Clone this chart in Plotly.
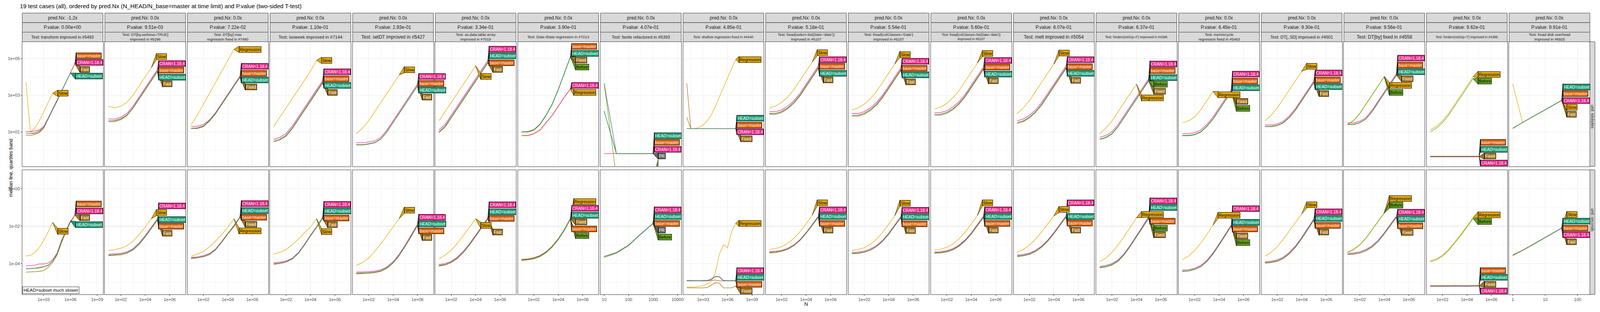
import plotly.graph_objects as go
from plotly.subplots import make_subplots

# ---- facet strips ----
tests = [
    "transform improved in #5493",
    "DT[by,verbose=TRUE] improved in #6296",
    "DT[by] max regression fixed in #7480",
    "isoweek improved in #7144",
    "setDT improved in #5427",
    "as.data.table.array improved in #7019",
    "Date-IDate regression in #7213",
    "fwrite refactored in #6393",
    "shallow regression fixed in #4440",
    "fread(select=list(Date='date')) improved in #6107",
    "fread(colClasses='Date') improved in #6107",
    "fread(colClasses=list(Date='date')) improved in #6107",
    "melt improved in #5054",
    "forderv(retGrp=F) improved in #4386",
    "memrecycle regression fixed in #5463",
    "DT[,.SD] improved in #4501",
    "DT[by] fixed in #4558",
    "forderv(retGrp=T) improved in #4386",
    "fread disk overhead improved in #6925",
]
pred_nx = ["-1.2x", "0.0x", "0.0x", "0.0x", "0.0x", "0.0x", "0.0x", "0.0x", "0.0x", "0.0x",
           "0.0x", "0.0x", "0.0x", "0.0x", "0.0x", "0.0x", "0.0x", "0.0x", "0.0x"]
p_values = ["0.00e+00", "9.51e-03", "7.22e-02", "1.10e-01", "2.93e-01", "3.34e-01", "3.90e-01",
            "4.07e-01", "4.85e-01", "5.18e-01", "5.54e-01", "5.60e-01", "6.07e-01", "6.37e-01",
            "6.45e-01", "9.30e-01", "9.56e-01", "9.62e-01", "9.91e-01"]
units = ["kilobytes", "seconds"]

# versions compared in every panel, then the extra ones per test
versions = ["HEAD=subset", "base=master", "CRAN=1.18.4"]
extras = [
    ["Fast", "Slow"], ["Slow", "Fast"], ["Regression", "Fixed"], ["Slow", "Fast"],
    ["Slow", "Fast"], ["Slow", "Fast"], ["Before", "Regression", "Fixed"], ["PR", "Before"],
    ["Regression", "Fixed"], ["Slow", "Fast"], ["Slow", "Fast"], ["Slow", "Fast"],
    ["Slow", "Fast"], ["Before", "Regression", "Fixed"], ["Before", "Regression", "Fixed"],
    ["Slow", "Fast"], ["Before", "Regression", "Fixed"], ["Before", "Regression", "Fixed"],
    ["Slow", "Fast"],
]

# ---- x: log10(N) measured in each panel ----
G5 = [1, 1.5, 2, 2.5, 3, 3.5, 4, 4.5, 5]
log10_N = [
    [1, 1.5, 2, 2.5, 3, 3.5, 4, 4.5, 5, 5.5, 6, 6.5],
    G5, G5, G5,
    [1, 1.5, 2, 2.5, 3, 3.5, 4, 4.5, 5, 5.5, 6],
    G5, G5,
    [1, 1.5, 2, 2.5, 3],
    [1, 1.5, 2, 2.5, 3, 3.5, 4, 4.5, 5, 5.5, 6, 6.5, 7],
    G5, G5, G5, G5, G5, G5, G5, G5, G5,
    [0, 0.301, 0.602, 0.903, 1.204, 1.505],
]
x_limits = [[1, 9.25], [1, 7], [1, 7], [1, 7], [1, 7], [1, 7], [1, 7], [1, 4], [1, 10],
            [1, 7], [1, 7], [1, 7], [1, 7], [1, 7], [1, 7], [1, 7], [1, 7], [1, 7], [0, 2.26]]
TK3 = [1e3, 1e6, 1e9]
TK2 = [1e2, 1e4, 1e6]
TX3 = ["1e+03", "1e+06", "1e+09"]
TX2 = ["1e+02", "1e+04", "1e+06"]
x_tick_vals = [TK3, TK2, TK2, TK2, TK2, TK2, TK2, [10, 100, 1000, 10000], TK3,
               TK2, TK2, TK2, TK2, TK2, TK2, TK2, TK2, TK2, [1, 10, 100]]
x_tick_text = [TX3, TX2, TX2, TX2, TX2, TX2, TX2, ["10", "100", "1000", "10000"], TX3,
               TX2, TX2, TX2, TX2, TX2, TX2, TX2, TX2, TX2, ["1", "10", "100"]]

# ---- y axes (shared per row), log10 ranges ----
y_ranges = [[-0.883, 5.915], [-5.65, 1.01]]
y_tick_vals = [[10, 1e3, 1e5], [1e-4, 1e-2, 1]]
y_tick_text = [["1e+01", "1e+03", "1e+05"], ["1e-04", "1e-02", "1e+00"]]
y_minor = [[1, 1e2, 1e4], [1e-5, 1e-3, 1e-1]]
seconds_limit = 0.01

# ---- medians, log10(kilobytes) ----
kb_HEAD = [
    [0.9, 0.9, 0.9, 1.0, 1.2, 1.7, 2.2, 2.66, 3.2, 3.7, 4.21],
    [1.6, 1.6, 1.7, 1.9, 2.3, 2.8, 3.3, 3.8, 4.3],
    [1.2, 1.2, 1.3, 1.6, 2.0, 2.5, 3.0, 3.5, 4.0],
    [0.5, 0.6, 0.8, 1.2, 1.7, 2.2, 2.7, 3.2, 3.7],
    [0.3, 0.3, 0.35, 0.4, 0.6, 1.0, 1.5, 2.0, 2.5, 3.0, 3.5],
    [1.0, 1.3, 1.8, 2.3, 2.8, 3.3, 3.8, 4.3, 4.8],
    [1.0, 1.0, 1.1, 1.4, 1.9, 2.5, 3.3, 4.2, 5.1],
    [2.13, -0.19, -0.19, -0.19, -0.19],
    [1.18, 1.18, 1.18, 1.18, 1.18, 1.18, 1.18, 1.18, 1.18, 1.18, 1.18, 1.18, 1.18],
    [2.0, 2.0, 2.1, 2.3, 2.6, 3.0, 3.5, 4.0, 4.5],
    [1.9, 1.9, 2.0, 2.2, 2.5, 2.9, 3.4, 3.9, 4.4],
    [1.95, 1.95, 2.05, 2.25, 2.55, 2.95, 3.45, 3.95, 4.45],
    [1.5, 1.6, 1.8, 2.1, 2.5, 3.0, 3.5, 4.0, 4.5],
    [0.6, 0.7, 0.9, 1.3, 1.8, 2.3, 2.8, 3.3, 3.8],
    [0.8, 0.8, 0.85, 1.0, 1.3, 1.7, 2.2, 2.7, 3.2],
    [1.3, 1.3, 1.35, 1.5, 1.8, 2.2, 2.7, 3.2, 3.7],
    [1.4, 1.4, 1.5, 1.7, 2.1, 2.6, 3.1, 3.6, 4.1],
    [-0.35, -0.35, -0.35, -0.35, -0.35, -0.35, -0.35, -0.35, -0.35],
    [1.19, 1.51, 1.81, 2.11, 2.41, 2.71],
]
kb_base = [
    [0.9, 0.9, 0.95, 1.05, 1.25, 1.7, 2.2, 2.7, 3.2, 3.72, 4.22, 4.72],
    [1.6, 1.62, 1.72, 1.92, 2.32, 2.82, 3.32, 3.82, 4.32],
    [1.2, 1.22, 1.32, 1.62, 2.02, 2.52, 3.02, 3.52, 4.02],
    [0.5, 0.6, 0.8, 1.2, 1.7, 2.2, 2.7, 3.2, 3.72],
    [0.3, 0.3, 0.35, 0.42, 0.62, 1.02, 1.52, 2.02, 2.52, 3.02, 3.52],
    [1.0, 1.3, 1.8, 2.3, 2.8, 3.3, 3.8, 4.3, 4.8],
    [1.0, 1.02, 1.12, 1.42, 1.92, 2.52, 3.32, 4.22, 5.12],
    [2.13, -0.19, -0.19, -0.19, -0.19],
    [1.79, 1.18, 1.18, 1.18, 1.18, 1.18, 1.18, 1.18, 1.18, 1.18, 1.18, 1.18, 1.18],
    [2.0, 2.01, 2.11, 2.31, 2.61, 3.01, 3.51, 4.01, 4.51],
    [1.9, 1.91, 2.01, 2.21, 2.51, 2.91, 3.41, 3.91, 4.41],
    [1.95, 1.96, 2.06, 2.26, 2.56, 2.96, 3.46, 3.96, 4.46],
    [1.5, 1.6, 1.8, 2.1, 2.5, 3.0, 3.5, 4.0, 4.52],
    [0.6, 0.7, 0.9, 1.3, 1.8, 2.3, 2.8, 3.3, 3.82],
    [0.8, 0.81, 0.86, 1.01, 1.31, 1.71, 2.21, 2.71, 3.21],
    [1.3, 1.31, 1.36, 1.51, 1.81, 2.21, 2.71, 3.21, 3.71],
    [1.4, 1.41, 1.51, 1.71, 2.11, 2.61, 3.11, 3.61, 4.11],
    [-0.33, -0.33, -0.33, -0.33, -0.33, -0.33, -0.33, -0.33, -0.33],
    [1.2, 1.51, 1.81, 2.11, 2.41, 2.71],
]
kb_CRAN = [
    [1.0, 1.0, 1.05, 1.1, 1.3, 1.75, 2.25, 2.72, 3.22, 3.72, 4.22, 4.72],
    [1.7, 1.7, 1.8, 2.0, 2.4, 2.9, 3.4, 3.9, 4.4],
    [1.3, 1.3, 1.4, 1.65, 2.05, 2.55, 3.05, 3.55, 4.05],
    [0.6, 0.7, 0.9, 1.3, 1.8, 2.3, 2.8, 3.3, 3.8],
    [0.4, 0.4, 0.45, 0.5, 0.7, 1.1, 1.6, 2.1, 2.6, 3.1, 3.6],
    [1.1, 1.4, 1.9, 2.4, 2.9, 3.4, 3.9, 4.4, 4.9],
    [0.8, 0.8, 0.9, 1.1, 1.5, 1.9, 2.4, 2.9, 3.35],
    [-0.19, -0.19, -0.19, -0.19, -0.19],
    [1.18, 1.18, 1.18, 1.18, 1.18, 1.18, 1.18, 1.18, 1.18, 1.18, 1.18, 1.18, 1.18],
    [2.1, 2.1, 2.2, 2.4, 2.7, 3.1, 3.6, 4.1, 4.6],
    [2.0, 2.0, 2.1, 2.3, 2.6, 3.0, 3.5, 4.0, 4.5],
    [2.05, 2.05, 2.15, 2.35, 2.65, 3.05, 3.55, 4.05, 4.55],
    [1.6, 1.7, 1.9, 2.2, 2.6, 3.1, 3.6, 4.1, 4.6],
    [0.7, 0.8, 1.0, 1.4, 1.9, 2.4, 2.9, 3.4, 3.9],
    [0.9, 0.9, 0.95, 1.1, 1.4, 1.8, 2.3, 2.8, 3.3],
    [1.38, 1.38, 1.43, 1.58, 1.88, 2.28, 2.78, 3.28, 3.78],
    [1.48, 1.48, 1.58, 1.78, 2.18, 2.68, 3.18, 3.68, 4.18],
    [-0.37, -0.37, -0.37, -0.37, -0.37, -0.37, -0.37, -0.37, -0.37],
    [1.19, 1.51, 1.81, 2.11, 2.41, 2.71],
]
kb_extra = [
    [[0.8, 0.8, 0.85, 0.95, 1.2, 1.7, 2.2, 2.7, 3.2, 3.7, 4.2, 4.72],
     [3.68, 1.0, 1.2, 1.6, 2.1, 2.6, 3.1]],
    [[2.4, 2.3, 2.4, 2.6, 3.0, 3.5, 4.0, 4.5],
     [1.55, 1.55, 1.65, 1.88, 2.28, 2.78, 3.28, 3.78, 4.28]],
    [[1.4, 1.9, 2.5, 3.1, 3.7, 4.3, 4.9, 5.5],
     [1.18, 1.18, 1.28, 1.58, 1.98, 2.48, 2.98, 3.48, 3.98]],
    [[1.3, 1.8, 2.3, 2.8, 3.3, 3.8, 4.3, 4.9],
     [0.45, 0.55, 0.75, 1.15, 1.65, 2.15, 2.65, 3.15, 3.65]],
    [[0.9, 1.2, 1.6, 2.1, 2.6, 3.1, 3.6, 4.1],
     [0.28, 0.28, 0.33, 0.4, 0.6, 1.0, 1.5, 2.0, 2.5, 3.0, 3.5]],
    [[1.6, 2.1, 2.6, 3.1, 3.6, 4.1, 4.6],
     [0.95, 1.25, 1.75, 2.25, 2.75, 3.25, 3.75, 4.25, 4.75]],
    [[0.98, 0.98, 1.08, 1.38, 1.88, 2.48, 3.28, 4.18, 5.08],
     [0.78, 0.78, 0.88, 1.08, 1.48, 1.88, 2.38, 2.88, 3.33],
     [1.0, 1.0, 1.1, 1.4, 1.9, 2.5, 3.3, 4.2, 5.1]],
    [[3.64, -0.19, -0.19, -0.19, -0.19],
     [3.64, -1.5, -1.5, -1.5, -1.5]],
    [[1.18, 1.18, 1.18, 1.25, 1.37, 1.6, 1.92, 2.38, 2.9, 3.42, 3.95, 4.45, 4.94],
     [3.64, 1.18, 1.18, 1.18, 1.18, 1.18, 1.18, 1.18, 1.18, 1.18, 1.18, 1.18, 1.18]],
    [[2.3, 2.4, 2.6, 2.9, 3.3, 3.8, 4.3, 4.8],
     [1.95, 1.95, 2.05, 2.25, 2.55, 2.95, 3.45, 3.95, 4.45]],
    [[2.2, 2.3, 2.5, 2.8, 3.2, 3.7, 4.2, 4.7],
     [1.85, 1.85, 1.95, 2.15, 2.45, 2.85, 3.35, 3.85, 4.35]],
    [[2.25, 2.35, 2.55, 2.85, 3.25, 3.75, 4.25, 4.75],
     [1.9, 1.9, 2.0, 2.2, 2.5, 2.9, 3.4, 3.9, 4.4]],
    [[2.0, 2.3, 2.7, 3.2, 3.7, 4.2, 4.7],
     [1.45, 1.55, 1.75, 2.05, 2.45, 2.95, 3.45, 3.95, 4.45]],
    [[0.6, 0.7, 0.9, 1.3, 1.8, 2.3, 2.8, 3.3, 3.78],
     [0.9, 1.2, 1.6, 2.1, 2.6, 3.1, 3.6],
     [0.58, 0.68, 0.88, 1.28, 1.78, 2.28, 2.78, 3.28, 3.78]],
    [[0.78, 0.78, 0.83, 0.98, 1.28, 1.68, 2.18, 2.68, 3.18],
     [1.5, 1.6, 1.8, 2.2, 2.7, 3.2],
     [0.8, 0.8, 0.85, 1.0, 1.3, 1.7, 2.2, 2.7, 3.2]],
    [[1.6, 1.9, 2.3, 2.8, 3.3, 3.8, 4.3],
     [1.28, 1.28, 1.33, 1.48, 1.78, 2.18, 2.68, 3.18, 3.68]],
    [[1.4, 1.6, 2.0, 2.5, 3.0, 3.5, 4.0],
     [1.42, 1.62, 2.02, 2.52, 3.02, 3.52, 4.02],
     [1.39, 1.39, 1.49, 1.69, 2.09, 2.59, 3.09, 3.59, 4.09]],
    [[1.0, 1.2, 1.5, 1.9, 2.4, 2.9, 3.4, 3.9],
     [1.1, 1.3, 1.6, 2.0, 2.5, 3.0, 3.5, 4.0],
     [-0.36, -0.36, -0.36, -0.36, -0.36, -0.36, -0.36, -0.36, -0.36]],
    [[3.61, 1.51, 1.81, 2.11, 2.41, 2.71],
     [1.18, 1.51, 1.81, 2.11, 2.41, 2.71]],
]

# ---- medians, log10(seconds) ----
sec_HEAD = [
    [-4.28, -4.27, -4.26, -4.24, -4.18, -4.1, -3.87, -3.49, -2.8, -2.21, -1.72],
    [-3.55, -3.53, -3.5, -3.42, -3.25, -2.95, -2.55, -2.1, -1.65],
    [-3.7, -3.68, -3.62, -3.5, -3.25, -2.85, -2.4, -1.95, -1.5],
    [-4.0, -3.98, -3.9, -3.75, -3.45, -3.0, -2.5, -2.05, -1.55],
    [-4.5, -4.5, -4.48, -4.45, -4.38, -4.22, -3.95, -3.55, -3.05, -2.5, -1.95],
    [-4.1, -4.05, -3.92, -3.7, -3.38, -2.98, -2.52, -2.05, -1.58],
    [-3.8, -3.78, -3.72, -3.6, -3.4, -3.1, -2.7, -2.2, -1.6],
    [-3.63, -3.42, -3.02, -2.42, -1.85],
    [-4.92, -4.92, -4.92, -4.92, -4.92, -4.92, -4.85, -4.7, -4.72, -4.92, -4.92, -4.92, -4.92],
    [-3.4, -3.38, -3.33, -3.22, -3.03, -2.75, -2.38, -1.95, -1.5],
    [-3.45, -3.43, -3.38, -3.27, -3.08, -2.8, -2.42, -1.98, -1.52],
    [-3.42, -3.4, -3.35, -3.24, -3.05, -2.77, -2.4, -1.96, -1.5],
    [-3.6, -3.56, -3.48, -3.33, -3.1, -2.78, -2.38, -1.94, -1.48],
    [-4.2, -4.15, -4.05, -3.85, -3.5, -3.05, -2.55, -2.05, -1.55],
    [-4.4, -4.38, -4.3, -4.15, -3.88, -3.48, -3.0, -2.5, -1.98],
    [-3.95, -3.92, -3.85, -3.7, -3.45, -3.1, -2.65, -2.15, -1.65],
    [-3.5, -3.48, -3.42, -3.3, -3.1, -2.8, -2.4, -1.95, -1.5],
    [-5.2, -5.2, -5.21, -5.2, -5.19, -5.2, -5.2, -5.19, -5.19],
    [-3.55, -3.29, -3.0, -2.7, -2.4, -2.1],
]
sec_base = [
    [-4.27, -4.26, -4.24, -4.2, -4.17, -4.08, -3.86, -3.5, -2.85, -2.25, -1.78, -1.41],
    [-3.56, -3.54, -3.51, -3.43, -3.26, -2.96, -2.56, -2.12, -1.66],
    [-3.72, -3.69, -3.63, -3.51, -3.26, -2.86, -2.41, -1.99, -1.52],
    [-4.02, -3.99, -3.91, -3.76, -3.46, -3.02, -2.52, -2.06, -1.57],
    [-4.52, -4.51, -4.49, -4.46, -4.39, -4.23, -3.96, -3.56, -3.06, -2.52, -1.97],
    [-4.12, -4.06, -3.93, -3.71, -3.39, -2.99, -2.53, -2.06, -1.6],
    [-3.82, -3.79, -3.73, -3.61, -3.41, -3.11, -2.71, -2.21, -1.62],
    [-3.63, -3.42, -3.02, -2.42, -1.85],
    [-4.93, -4.93, -4.93, -4.93, -4.93, -4.93, -4.9, -4.88, -4.92, -4.93, -4.93, -4.93, -4.93],
    [-3.42, -3.4, -3.34, -3.23, -3.04, -2.76, -2.39, -1.96, -1.52],
    [-3.46, -3.44, -3.39, -3.28, -3.09, -2.81, -2.43, -1.99, -1.54],
    [-3.43, -3.41, -3.36, -3.25, -3.06, -2.78, -2.41, -1.97, -1.52],
    [-3.61, -3.57, -3.49, -3.34, -3.11, -2.79, -2.39, -1.95, -1.5],
    [-4.21, -4.16, -4.06, -3.86, -3.51, -3.06, -2.56, -2.06, -1.57],
    [-4.41, -4.39, -4.31, -4.16, -3.89, -3.49, -3.01, -2.51, -1.99],
    [-3.96, -3.93, -3.86, -3.71, -3.46, -3.11, -2.66, -2.16, -1.67],
    [-3.51, -3.49, -3.43, -3.31, -3.11, -2.81, -2.41, -1.97, -1.52],
    [-5.18, -5.18, -5.19, -5.18, -5.17, -5.18, -5.18, -5.17, -5.17],
    [-3.54, -3.29, -3.0, -2.7, -2.4, -2.1],
]
sec_CRAN = [
    [-4.12, -4.11, -4.08, -4.02, -4.02, -3.97, -3.8, -3.44, -2.75, -2.24, -1.75, -1.41],
    [-3.5, -3.48, -3.45, -3.37, -3.2, -2.9, -2.5, -2.05, -1.6],
    [-3.66, -3.64, -3.58, -3.46, -3.22, -2.82, -2.38, -2.02, -1.48],
    [-3.95, -3.93, -3.86, -3.72, -3.42, -2.98, -2.48, -2.03, -1.52],
    [-4.45, -4.45, -4.43, -4.4, -4.33, -4.18, -3.9, -3.5, -3.0, -2.46, -1.9],
    [-4.05, -4.0, -3.88, -3.66, -3.34, -2.94, -2.48, -2.02, -1.55],
    [-3.78, -3.76, -3.7, -3.58, -3.38, -3.08, -2.68, -2.18, -1.58],
    [-3.62, -3.41, -3.01, -2.41, -1.84],
    [-4.9, -4.91, -4.91, -4.91, -4.91, -4.9, -4.83, -4.68, -4.7, -4.9, -4.91, -4.91, -4.91],
    [-3.36, -3.34, -3.29, -3.18, -3.0, -2.72, -2.35, -1.92, -1.47],
    [-3.4, -3.38, -3.33, -3.22, -3.04, -2.76, -2.38, -1.94, -1.48],
    [-3.38, -3.36, -3.31, -3.2, -3.01, -2.73, -2.36, -1.92, -1.46],
    [-3.55, -3.51, -3.44, -3.29, -3.06, -2.74, -2.34, -1.9, -1.45],
    [-4.15, -4.1, -4.0, -3.8, -3.46, -3.01, -2.51, -2.01, -1.5],
    [-4.35, -4.33, -4.25, -4.1, -3.83, -3.43, -2.95, -2.45, -1.93],
    [-3.9, -3.87, -3.8, -3.65, -3.4, -3.05, -2.6, -2.1, -1.6],
    [-3.45, -3.43, -3.37, -3.25, -3.05, -2.75, -2.35, -1.9, -1.45],
    [-5.22, -5.22, -5.23, -5.22, -5.21, -5.22, -5.22, -5.21, -5.21],
    [-3.56, -3.3, -3.0, -2.7, -2.4, -2.1],
]
sec_extra = [
    [[-4.46, -4.45, -4.44, -4.42, -4.37, -4.2, -3.95, -3.55, -2.9, -2.3, -1.8, -1.41],
     [-3.6, -3.56, -3.41, -3.15, -2.76, -2.31, -1.8]],
    [[-3.3, -3.25, -3.18, -3.05, -2.8, -2.45, -2.05, -1.6],
     [-3.58, -3.56, -3.53, -3.45, -3.28, -2.98, -2.58, -2.13, -1.68]],
    [[-3.6, -3.5, -3.35, -3.1, -2.8, -2.45, -2.05, -1.6],
     [-3.74, -3.7, -3.64, -3.52, -3.27, -2.87, -2.42, -2.03, -1.53]],
    [[-3.5, -3.4, -3.25, -3.0, -2.7, -2.35, -2.05, -1.6],
     [-4.04, -4.0, -3.92, -3.77, -3.47, -3.03, -2.53, -2.08, -1.58]],
    [[-4.1, -3.95, -3.7, -3.35, -2.95, -2.5, -2.05, -1.6],
     [-4.55, -4.54, -4.52, -4.49, -4.42, -4.26, -3.98, -3.58, -3.08, -2.54, -1.98]],
    [[-3.75, -3.55, -3.28, -2.92, -2.5, -2.05, -1.6],
     [-4.14, -4.08, -3.95, -3.73, -3.41, -3.01, -2.55, -2.08, -1.62]],
    [[-3.84, -3.81, -3.75, -3.63, -3.43, -3.13, -2.73, -2.23, -1.63],
     [-3.76, -3.74, -3.68, -3.56, -3.36, -3.06, -2.66, -2.16, -1.56],
     [-3.81, -3.79, -3.73, -3.61, -3.41, -3.11, -2.71, -2.21, -1.61]],
    [[-3.62, -3.41, -3.02, -2.42, -1.85],
     [-3.68, -3.45, -3.04, -2.43, -1.86]],
    [[-5.27, -5.26, -5.25, -5.22, -5.18, -5.1, -4.95, -4.5, -3.5, -3.0, -3.15, -2.3, -1.85],
     [-5.3, -5.3, -5.3, -5.3, -5.3, -5.28, -5.15, -5.02, -5.05, -5.3, -5.3, -5.3, -5.2]],
    [[-3.25, -3.2, -3.1, -2.92, -2.65, -2.3, -1.88, -1.42],
     [-3.43, -3.41, -3.35, -3.24, -3.05, -2.77, -2.4, -1.97, -1.53]],
    [[-3.3, -3.25, -3.15, -2.97, -2.7, -2.34, -1.9, -1.44],
     [-3.48, -3.46, -3.4, -3.29, -3.1, -2.82, -2.44, -2.0, -1.55]],
    [[-3.28, -3.23, -3.13, -2.95, -2.68, -2.32, -1.89, -1.43],
     [-3.45, -3.43, -3.38, -3.27, -3.08, -2.8, -2.43, -1.99, -1.54]],
    [[-3.4, -3.25, -3.02, -2.7, -2.3, -1.88, -1.45],
     [-3.63, -3.59, -3.51, -3.36, -3.13, -2.81, -2.41, -1.97, -1.52]],
    [[-4.22, -4.17, -4.07, -3.87, -3.52, -3.07, -2.57, -2.07, -1.58],
     [-3.9, -3.7, -3.4, -3.0, -2.55, -2.05, -1.55],
     [-4.23, -4.18, -4.08, -3.88, -3.53, -3.08, -2.58, -2.08, -1.59]],
    [[-4.42, -4.4, -4.32, -4.17, -3.9, -3.5, -3.02, -2.52, -2.0],
     [-3.8, -3.6, -3.3, -2.9, -2.45, -1.95],
     [-4.41, -4.39, -4.31, -4.16, -3.89, -3.49, -3.01, -2.51, -1.99]],
    [[-3.6, -3.4, -3.1, -2.7, -2.25, -1.8, -1.35],
     [-3.98, -3.95, -3.88, -3.73, -3.48, -3.13, -2.68, -2.18, -1.69]],
    [[-3.4, -3.25, -3.0, -2.65, -2.2, -1.75, -1.3],
     [-3.38, -3.23, -2.98, -2.63, -2.18, -1.73, -1.28],
     [-3.52, -3.5, -3.44, -3.32, -3.12, -2.82, -2.42, -1.98, -1.53]],
    [[-3.9, -3.8, -3.6, -3.3, -2.9, -2.5, -2.05, -1.6],
     [-3.85, -3.75, -3.55, -3.25, -2.85, -2.45, -2.0, -1.55],
     [-5.21, -5.21, -5.22, -5.21, -5.2, -5.21, -5.21, -5.2, -5.2]],
    [[-3.53, -3.28, -2.99, -2.69, -2.39, -2.09],
     [-3.57, -3.3, -3.01, -2.71, -2.41, -2.11]],
]

colors = {
    "HEAD=subset": "#1B9E77", "base=master": "#D95F02", "CRAN=1.18.4": "#E7298A",
    "Fast": "#A6761D", "Fixed": "#A6761D", "Slow": "#E6AB02", "Regression": "#E6AB02",
    "Before": "#66A61E", "PR": "#666666",
}
dark_text = {"Slow", "Regression", "Before"}

FONT = "Liberation Sans, Arial, sans-serif"
# the page body adds an 8px margin; *_scr values below are page (screen) pixels
OFF = 8
VIEW_W = 4080             # width the browser actually gives the figure (it follows the window)
H = 784                   # 784 + 2*8 body margin = 800, so the page never scrolls
ML, MR, MT, MB = 46, 18, 99, 37
GAP_FRAC = 9 / 7499
NCOL = len(tests)
PH = H - MT - MB
ROW_GAP = 9
ROW_H = (PH - ROW_GAP) / 2
LAB_H = 17.5
LAB_DX = 13
LAB_FONT = 10.5
STRIP_W = 13


def text_w(s, size):
    return 0.56 * size * len(s)


def spread(targets, lo, hi):
    # push labels apart vertically (pixels), keep them inside the panel
    order = sorted(range(len(targets)), key=lambda i: targets[i])

    def best(mem):
        c = sum(targets[m] - k * LAB_H for k, m in enumerate(mem)) / len(mem)
        c = min(c, hi - (len(mem) - 1) * LAB_H)
        return max(c, lo)

    groups = []
    for i in order:
        groups.append([[i], best([i])])
        while len(groups) > 1 and groups[-2][1] + len(groups[-2][0]) * LAB_H > groups[-1][1] + 1e-6:
            mem = groups[-2][0] + groups[-1][0]
            groups[-2:] = [[mem, best(mem)]]
    pos = {}
    for mem, c in groups:
        for k, m in enumerate(mem):
            pos[m] = c + k * LAB_H
    return [pos[i] for i in range(len(targets))]


def minor_between(vals):
    mids = [(a * b) ** 0.5 for a, b in zip(vals[:-1], vals[1:])]
    return [vals[0] ** 2 / mids[0]] + mids + [vals[-1] ** 2 / mids[-1]]


def fit_strip(text, width_px):
    size = min(12, 0.93 * width_px / (0.55 * len(text)))
    if size >= 8.5:
        return text, size
    # two lines, split at the space nearest the middle
    spaces = [i for i, ch in enumerate(text) if ch == " "]
    cut = min(spaces, key=lambda i: abs(i - len(text) / 2))
    a, b = text[:cut], text[cut + 1:]
    size = min(9.5, 0.93 * width_px / (0.55 * max(len(a), len(b))))
    return a + "<br>" + b, size


def scr_to_paper_y(py):
    return (H - MB - (py - OFF)) / PH


fig = make_subplots(rows=2, cols=NCOL, horizontal_spacing=GAP_FRAC,
                    vertical_spacing=ROW_GAP / PH)

annotations = []
shapes = []
row_data = [
    (kb_HEAD, kb_base, kb_CRAN, kb_extra),
    (sec_HEAD, sec_base, sec_CRAN, sec_extra),
]
plot_w = VIEW_W - ML - MR

for r in range(2):
    head, base, cran, extra = row_data[r]
    ylo, yhi = y_ranges[r]
    top_scr = OFF + MT + r * (ROW_H + ROW_GAP)
    for c in range(NCOL):
        k = r * NCOL + c + 1
        xr = "x" if k == 1 else f"x{k}"
        yr = "y" if k == 1 else f"y{k}"
        dom = fig.layout[f"xaxis{'' if k == 1 else k}"].domain
        panel_px = plot_w * (dom[1] - dom[0])
        lo, hi = x_limits[c]
        pad = 0.05 * (hi - lo)
        xlo, xhi = lo - pad, hi + pad
        names = versions + extras[c]
        series = [head[c], base[c], cran[c]] + extra[c]

        # lines, HEAD drawn last so it sits on top
        for name, vals in reversed(list(zip(names, series))):
            xs = log10_N[c][:len(vals)]
            fig.add_trace(go.Scatter(
                x=[10 ** v for v in xs], y=[10 ** v for v in vals], mode="lines",
                line=dict(color=colors[name], width=1.3), showlegend=False, hoverinfo="skip"),
                row=r + 1, col=c + 1)

        # direct labels at the last point of every line
        ends = []
        for name, vals in zip(names, series):
            xe = log10_N[c][len(vals) - 1]
            ye = vals[-1]
            py = top_scr + (yhi - ye) / (yhi - ylo) * ROW_H
            ends.append((name, xe, ye, py))
        lab_py = spread([e[3] for e in ends], top_scr + LAB_H / 2, top_scr + ROW_H - LAB_H / 2)
        for (name, xe, ye, py), lp in zip(ends, lab_py):
            up = py - lp
            from_left = (xe - xlo) / (xhi - xlo) * panel_px
            room = panel_px - from_left - (text_w(name, LAB_FONT) + 4) - 1
            dx = max(3, min(LAB_DX, room))
            shapes.append(dict(
                type="path", xref=xr, yref=yr, xsizemode="pixel", ysizemode="pixel",
                xanchor=10 ** xe, yanchor=10 ** ye,
                path=f"M0,0 L{dx},{up + LAB_H / 2 - 0.5} L{dx},{up - LAB_H / 2 + 0.5} Z",
                fillcolor=colors[name], line=dict(color="black", width=0.8), layer="above"))
            annotations.append(dict(
                x=xe, y=ye, xref=xr, yref=yr, text=name, showarrow=False,
                xanchor="left", yanchor="middle", xshift=dx, yshift=up,
                bgcolor=colors[name], bordercolor="black", borderwidth=1, borderpad=1,
                font=dict(family=FONT, size=LAB_FONT,
                          color="black" if name in dark_text else "white")))

        if r == 1:
            shapes.append(dict(type="line", xref=f"{xr} domain", x0=0, x1=1, yref=yr,
                               y0=seconds_limit, y1=seconds_limit,
                               line=dict(color="#BEBEBE", width=1), layer="below"))

        fig.update_xaxes(
            type="log", range=[xlo, xhi], tickvals=x_tick_vals[c], ticktext=x_tick_text[c],
            showticklabels=(r == 1), ticks="outside" if r == 1 else "", ticklen=3,
            tickcolor="#333333", showgrid=True, gridcolor="#EBEBEB", gridwidth=1.1,
            minor=dict(tickvals=minor_between(x_tick_vals[c]), showgrid=True,
                       gridcolor="#F4F4F4", gridwidth=0.6, ticks=""),
            showline=True, mirror=True, linecolor="#333333", linewidth=1, zeroline=False,
            tickfont=dict(family=FONT, size=11, color="#4D4D4D"), row=r + 1, col=c + 1)
        fig.update_yaxes(
            type="log", range=y_ranges[r], tickvals=y_tick_vals[r], ticktext=y_tick_text[r],
            showticklabels=(c == 0), ticks="outside" if c == 0 else "", ticklen=3,
            tickcolor="#333333", showgrid=True, gridcolor="#EBEBEB", gridwidth=1.1,
            minor=dict(tickvals=y_minor[r], showgrid=True, gridcolor="#F4F4F4",
                       gridwidth=0.6, ticks=""),
            showline=True, mirror=True, linecolor="#333333", linewidth=1, zeroline=False,
            tickfont=dict(family=FONT, size=11, color="#4D4D4D"), row=r + 1, col=c + 1)


# facet strips on top (three stacked rows per column), placed on the subplot domains
STRIP_TOP = 33.5
STRIP_H = (OFF + MT - STRIP_TOP) / 3
for c in range(NCOL):
    dom = fig.layout[f"xaxis{'' if c == 0 else c + 1}"].domain
    x0, x1 = dom[0], dom[1]
    panel_px = plot_w * (x1 - x0)
    texts = [f"pred.Nx: {pred_nx[c]}", f"P.value: {p_values[c]}", f"Test: {tests[c]}"]
    for i, t in enumerate(texts):
        ytop = STRIP_TOP + i * STRIP_H
        shown, size = fit_strip(t, panel_px)
        shapes.append(dict(type="rect", xref="paper", yref="paper", x0=x0, x1=x1,
                           y0=scr_to_paper_y(ytop + STRIP_H), y1=scr_to_paper_y(ytop),
                           fillcolor="#D9D9D9", line=dict(color="#333333", width=1),
                           layer="above"))
        annotations.append(dict(x=(x0 + x1) / 2, y=scr_to_paper_y(ytop + STRIP_H / 2),
                                xref="paper", yref="paper", text=shown, showarrow=False,
                                xanchor="center", yanchor="middle",
                                font=dict(family=FONT, size=size, color="#1A1A1A")))

# unit strips on the right (fixed pixel width next to the last column)
for r in range(2):
    top_scr = OFF + MT + r * (ROW_H + ROW_GAP)
    shapes.append(dict(type="rect", xref="paper", yref="paper", xsizemode="pixel",
                       xanchor=1, x0=0, x1=STRIP_W, y0=scr_to_paper_y(top_scr + ROW_H),
                       y1=scr_to_paper_y(top_scr), fillcolor="#D9D9D9",
                       line=dict(color="#333333", width=1), layer="above"))
    annotations.append(dict(x=1, xshift=STRIP_W / 2, y=scr_to_paper_y(top_scr + ROW_H / 2),
                            xref="paper", yref="paper", text=f"unit: {units[r]}",
                            textangle=90, xanchor="center", showarrow=False,
                            font=dict(family=FONT, size=10, color="#1A1A1A")))

annotations.append(dict(
    x=0, xshift=-8, y=scr_to_paper_y(16), xref="paper", yref="paper", xanchor="left",
    yanchor="middle",
    text="19 test cases (all), ordered by pred.Nx (N_HEAD/N_base=master at time limit) "
         "and P.value (two-sided T-test)",
    showarrow=False, font=dict(family=FONT, size=15, color="black")))
annotations.append(dict(
    x=0, xshift=-ML + 8, y=0.5, xref="paper", yref="paper", text="median line, quartiles band",
    textangle=-90, showarrow=False, font=dict(family=FONT, size=12.5, color="black")))
annotations.append(dict(
    x=0.5, y=scr_to_paper_y(789), xref="paper", yref="paper", text="N", showarrow=False,
    font=dict(family=FONT, size=13, color="black")))
annotations.append(dict(
    x=0, y=0, xref="paper", yref="paper", xanchor="left", yanchor="bottom", yshift=2,
    text="HEAD=subset much slower", showarrow=False, bgcolor="white",
    bordercolor="#333333", borderwidth=1, borderpad=2,
    font=dict(family=FONT, size=11.5, color="black")))

# width follows the browser window so every column stays on screen
fig.update_layout(
    autosize=True, height=H, margin=dict(l=ML, r=MR, t=MT, b=MB),
    paper_bgcolor="white", plot_bgcolor="white",
    annotations=annotations, shapes=shapes, showlegend=False,
    font=dict(family=FONT),
)

fig.write_html("out.html")
